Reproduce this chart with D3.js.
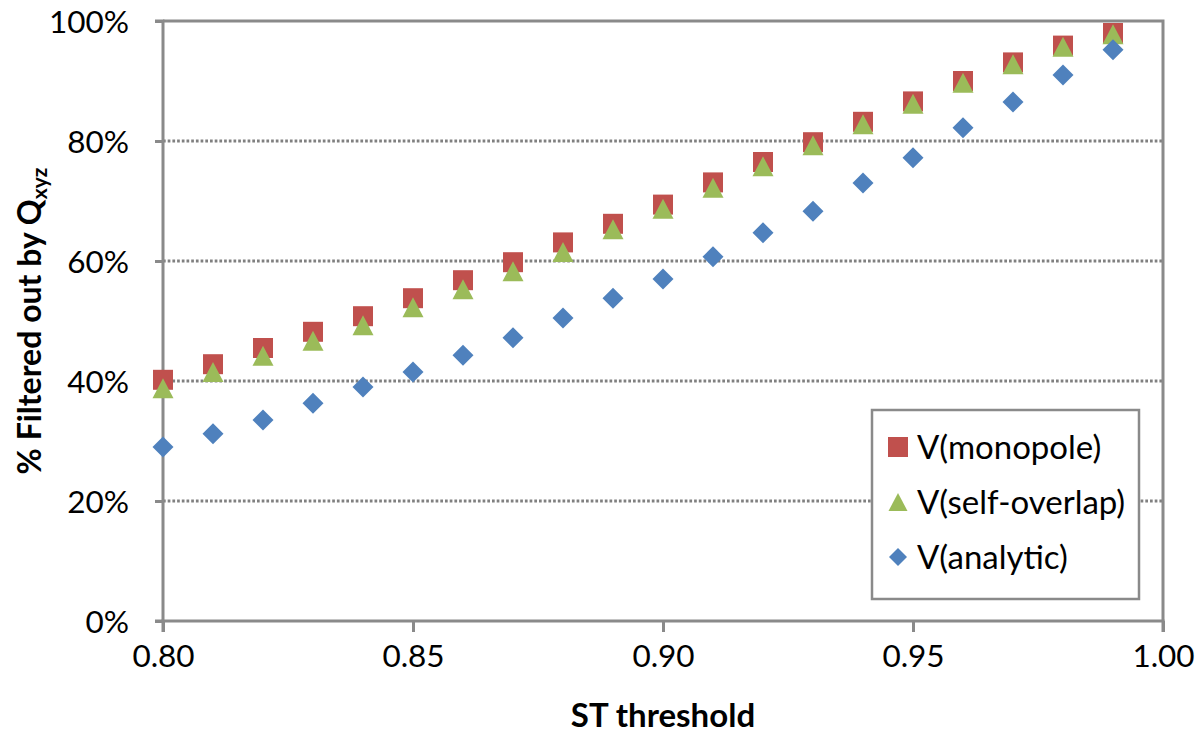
<!DOCTYPE html>
<html><head><meta charset="utf-8">
<script src="https://cdn.jsdelivr.net/npm/d3@7"></script>
<style>body{margin:0;background:#fff}svg{display:block}text{font-family:Lato,"Open Sans",sans-serif;fill:#000}</style>
</head><body><svg id="c" width="1200" height="738"></svg>
<script>
const thresholds=[0.80,0.81,0.82,0.83,0.84,0.85,0.86,0.87,0.88,0.89,0.90,0.91,0.92,0.93,0.94,0.95,0.96,0.97,0.98,0.99];
const monopole=[40.2,42.8,45.5,48.2,50.8,53.8,56.8,59.8,63.1,66.2,69.4,73.1,76.5,79.8,83.2,86.6,90.0,93.1,95.9,98.0];
const selfOverlap=[38.8,41.5,44.2,46.7,49.3,52.3,55.3,58.3,61.5,65.3,68.7,72.2,75.8,79.3,82.8,86.2,89.7,92.8,95.7,97.8];
const analytic=[29.0,31.2,33.5,36.3,39.0,41.5,44.3,47.2,50.5,53.8,57.0,60.7,64.7,68.3,73.0,77.2,82.2,86.5,91.0,95.2];
const xTicks=[0.80,0.85,0.90,0.95,1.00];
const yTicks=[0,20,40,60,80,100];
const seriesNames=["V(monopole)","V(self-overlap)","V(analytic)"];
const colors=["#C0504D","#9BBB59","#4F81BD"];

const svg=d3.select("#c");
const L=163,R=1163,T=21,B=621;
const x=d3.scaleLinear().domain([0.8,1.0]).range([L,R]);
const y=d3.scaleLinear().domain([0,100]).range([B,T]);
const axisColor="#8a8a8a";

// gridlines
svg.append("g").selectAll("line").data(yTicks.filter(t=>t>0&&t<100)).join("line")
 .attr("x1",L).attr("x2",R).attr("y1",d=>y(d)).attr("y2",d=>y(d))
 .attr("stroke","#808080").attr("stroke-width",3).attr("stroke-dasharray","2.7,2");
// border top/right
svg.append("path").attr("d",`M${L},${y(100)}H${R}V${B}`).attr("fill","none").attr("stroke",axisColor).attr("stroke-width",3);

// axes
const ya=d3.axisLeft(y).tickValues(yTicks).tickFormat(d=>d+"%").tickSize(8).tickPadding(26);
const gy=svg.append("g").attr("transform",`translate(${L},0)`).call(ya);
const xa=d3.axisBottom(x).tickValues(xTicks).tickFormat(d3.format(".2f")).tickSize(11).tickPadding(13);
const gx=svg.append("g").attr("transform",`translate(0,${B})`).call(xa);
[gy,gx].forEach(g=>{
 g.select(".domain").attr("stroke",axisColor).attr("stroke-width",3);
 g.selectAll(".tick line").attr("stroke",axisColor).attr("stroke-width",3);
 g.selectAll(".tick text").attr("font-family","Lato").attr("font-size",31.5).attr("fill","#000");
});
gy.select(".domain").attr("d",`M-8,${B}H0V${T}H-8`);
gx.select(".domain").attr("d",`M${L},11V0H${R}V11`);
gy.selectAll(".tick text").attr("dy","0.36em");

// markers
const sq=s=>`M${-s/2},${-s/2}h${s}v${s}h${-s}Z`;
const tri=(w,h)=>`M0,${-h/2}L${w/2},${h/2}L${-w/2},${h/2}Z`;
const dia=s=>`M0,${-s/2}L${s/2},0L0,${s/2}L${-s/2},0Z`;
const shapes=[sq(20),tri(21,20),dia(21)];
const legShapes=[sq(20),tri(19,18),dia(18)];
[monopole,selfOverlap,analytic].forEach((vals,i)=>{
 svg.append("g").selectAll("path").data(thresholds.map((t,j)=>[t,vals[j]])).join("path")
  .attr("d",shapes[i]).attr("fill",colors[i])
  .attr("transform",d=>`translate(${x(d[0])},${y(d[1])})`);
});

// legend
const lg=svg.append("g");
lg.append("rect").attr("x",872).attr("y",410).attr("width",267).attr("height",189)
 .attr("fill","#fff").attr("stroke",axisColor).attr("stroke-width",2.5);
const rowY=[447,502,557];
seriesNames.forEach((n,i)=>{
 lg.append("path").attr("d",legShapes[i]).attr("fill",colors[i]).attr("transform",`translate(898,${rowY[i]})`);
 lg.append("text").attr("x",917).attr("y",rowY[i]).attr("dy","0.36em").attr("font-size",33).text(n);
});

// axis titles
svg.append("text").attr("x",(L+R)/2).attr("y",727).attr("text-anchor","middle")
 .attr("font-size",33).attr("font-weight","bold").text("ST threshold");
const yt=svg.append("text").attr("transform",`translate(41,${(T+B)/2}) rotate(-90)`).attr("text-anchor","middle")
 .attr("font-size",32).attr("font-weight","bold");
yt.append("tspan").text("% Filtered out by Q");
yt.append("tspan").attr("font-size",21).attr("dy",6).text("xyz");
</script></body></html>
